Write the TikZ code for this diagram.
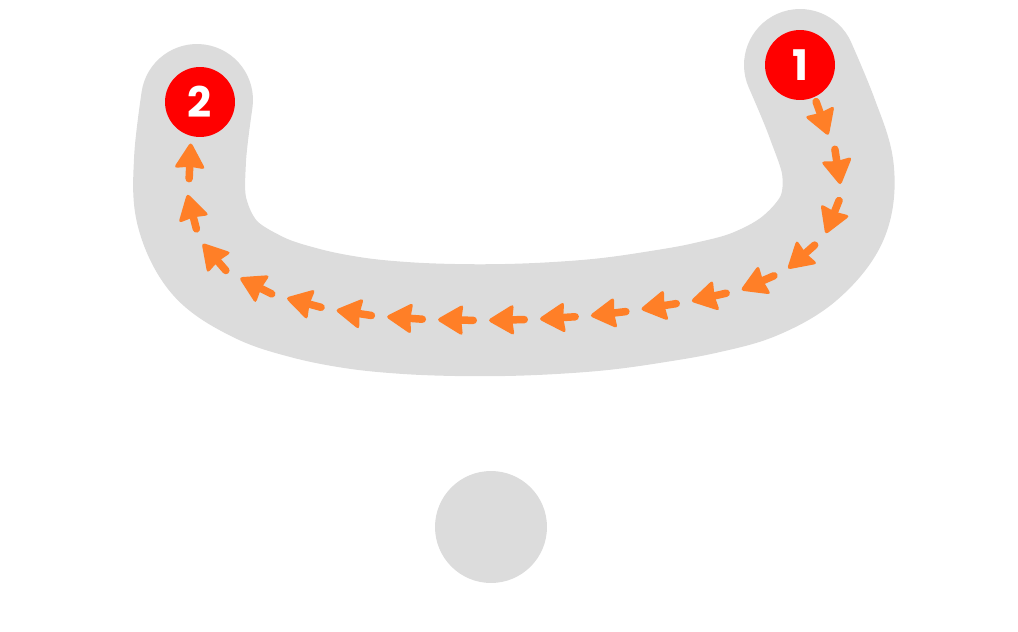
\documentclass[tikz,border=0pt]{standalone}
\usepackage{fontspec}
\newfontfamily\digitfont{Poppins}
\usetikzlibrary{decorations.markings}
\definecolor{strokegray}{HTML}{DCDCDC}
\definecolor{guideorange}{HTML}{FF7F27}
\definecolor{startred}{HTML}{FF0000}
\newcommand{\guidearrow}{%
  \fill[guideorange, rounded corners=2pt] (0.4cm,0) -- (-0.14cm,0.32cm) -- (-0.1cm,0) -- (-0.14cm,-0.32cm) -- cycle;
  \draw[guideorange, line width=0.15cm, line cap=round] (-0.34cm,0) -- (0.05cm,0);}
\tikzset{
  letterstroke/.style = {line width=2.24cm, draw=strokegray, line cap=round, line join=round},
  guides/.style       = {draw=none, decoration={markings,
                          mark=between positions 1.14cm and -1.1cm step 1.02cm with {\guidearrow}},
                          postaction={decorate}},
  numdot/.style       = {circle, fill=startred, minimum size=1.4cm, inner sep=0pt, text=white,
                          font=\digitfont\bfseries\fontsize{24}{24}\selectfont},
  dotmark/.style      = {circle, fill=strokegray, minimum size=2.24cm, inner sep=0pt},
}
\begin{document}
\begin{tikzpicture}[x=0.02cm, y=-0.02cm]
\useasboundingbox (0,0) rectangle (1018,632);

% Body of the letter and its guide arrows from 1 to 2
\def\letterpath{(800,65) (822,118) (838,170) (832,218) (800,258) (755,284) (705,298) (655,307)
  (605,314) (555,318) (505,320) (455,320) (405,318) (355,313) (305,303) (258,287) (215,258)
  (192,212) (190,160) (197,100)}
\draw[letterstroke] plot[smooth, tension=0.6] coordinates {\letterpath};
\path[guides] plot[smooth, tension=0.6] coordinates {\letterpath};

% Start and end points
\node (one) [numdot] at (800,65)  {1};
\node (two) [numdot] at (200,102) {2};

% The dot below
\node (dot) [dotmark] at (491,527) {};

\end{tikzpicture}
\end{document}
